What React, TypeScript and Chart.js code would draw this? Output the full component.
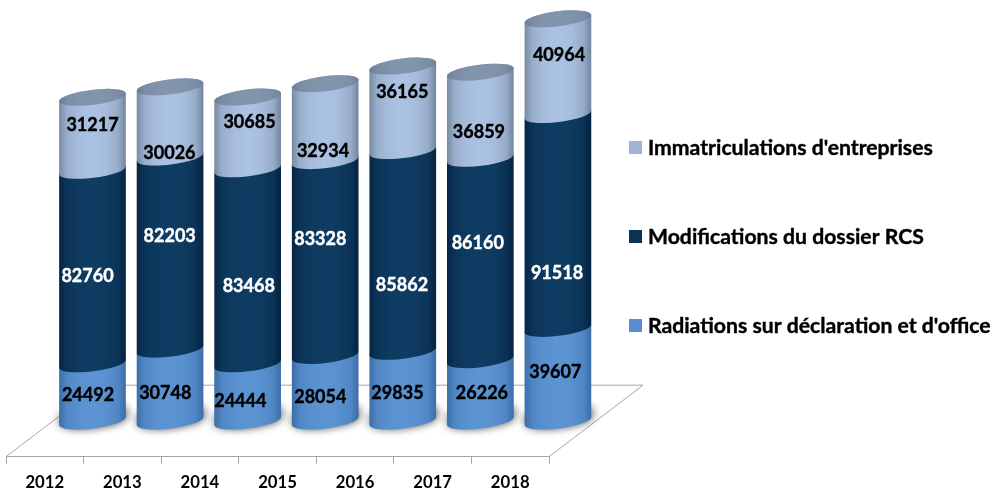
import React, { useEffect, useRef } from "react";
import { Chart, registerables } from "chart.js";

Chart.register(...registerables);

const years = ["2012", "2013", "2014", "2015", "2016", "2017", "2018"];
const radiations = [24492, 30748, 24444, 28054, 29835, 26226, 39607];
const modifications = [82760, 82203, 83468, 83328, 85862, 86160, 91518];
const immatriculations = [31217, 30026, 30685, 32934, 36165, 36859, 40964];

const radLabel = "Radiations sur déclaration et d'office";
const modLabel = "Modifications du dossier RCS";
const immLabel = "Immatriculations d'entreprises";

// Hand placement of the value labels relative to the segment centre (the source moved them by hand)
const radNudgeX = [-4.5, -4.8, -7.3, -4.9, -5.3, 1.6, -2.6];
const radNudgeY = [2.6, 7.9, 8.3, 8.5, 6.6, 2.6, -2.4];
const modNudgeX = [-5, -0.4, 1.1, -4.9, -0.8, -2.6, -0.9];
const modNudgeY = [9.6, -16.4, 19.7, -18.7, 34.3, -16.3, 51.5];
const immNudgeX = [0, -0.6, 1.9, -2.2, -0.5, -1.4, 1.1];
const immNudgeY = [-8.2, 30.8, -10.3, 28.6, -15.65, 16.45, -11.65];

const DEPTH_X = 47.7;
const DEPTH_Y = -35.7;
const TILT = (-7 * Math.PI) / 180;
const RY = 7.5;
const FONT = "Lato, 'Noto Sans', sans-serif";

type Ramp = [string, string, string];
const ramps: Ramp[] = [
  ["#3a6da6", "#5c94d4", "#3a6ca5"],
  ["#052544", "#0f3c62", "#04213f"],
  ["#76899f", "#abc2e2", "#71849b"],
];
const capRamp: Ramp = ["#6b7c94", "#8394ad", "#6f8098"];
const swatches = ["#5b8dcc", "#0b3358", "#a0b5d4"];
const nudgesX = [radNudgeX, modNudgeX, immNudgeX];
const nudgesY = [radNudgeY, modNudgeY, immNudgeY];
const labelColors = ["#000000", "#ffffff", "#000000"];

const mix = (a: string, b: string, t: number) => {
  const p = (s: string, i: number) => parseInt(s.slice(1 + i * 2, 3 + i * 2), 16);
  const c = [0, 1, 2].map((i) => Math.round(p(a, i) + (p(b, i) - p(a, i)) * t));
  return `rgb(${c[0]},${c[1]},${c[2]})`;
};

const grad = (ctx: CanvasRenderingContext2D, x0: number, x1: number, r: Ramp) => {
  const g = ctx.createLinearGradient(x0, 0, x1, 0);
  g.addColorStop(0, r[0]);
  g.addColorStop(0.12, mix(r[0], r[1], 0.65));
  g.addColorStop(0.3, mix(r[0], r[1], 0.92));
  g.addColorStop(0.5, r[1]);
  g.addColorStop(0.7, mix(r[2], r[1], 0.92));
  g.addColorStop(0.88, mix(r[2], r[1], 0.65));
  g.addColorStop(1, r[2]);
  return g;
};

const segmentPath = (ctx: CanvasRenderingContext2D, cx: number, top: number, bottom: number, rx: number) => {
  const ex = rx * Math.cos(TILT);
  const ey = rx * Math.sin(TILT);
  ctx.beginPath();
  ctx.moveTo(cx - ex, top - ey);
  ctx.lineTo(cx - ex, bottom - ey);
  ctx.ellipse(cx, bottom, rx, RY, TILT, Math.PI, 0, true);
  ctx.lineTo(cx + ex, top + ey);
  ctx.ellipse(cx, top, rx, RY, TILT, 0, Math.PI, true);
  ctx.closePath();
};

const cylinders = {
  id: "cylinders",
  beforeDraw(chart: any) {
    const { ctx } = chart;
    const x = chart.scales.x;
    const y0 = chart.chartArea.bottom;
    ctx.save();
    ctx.strokeStyle = "#a6a6a6";
    ctx.lineWidth = 1;
    ctx.beginPath();
    ctx.moveTo(x.left, y0);
    ctx.lineTo(x.left + 94, y0 - 71.5);
    ctx.lineTo(x.right + 94, y0 - 71.5);
    ctx.lineTo(x.right, y0);
    ctx.stroke();
    ctx.restore();
  },
  beforeDatasetsDraw(chart: any) {
    const { ctx } = chart;
    const metas = chart.data.datasets.map((_: any, i: number) => chart.getDatasetMeta(i));
    const n = chart.data.labels.length;
    ctx.save();
    // ground shadows
    for (let c = 0; c < n; c++) {
      const el = metas[0].data[c];
      const cx = el.x + DEPTH_X;
      const base = el.base + DEPTH_Y;
      ctx.save();
      ctx.shadowColor = "rgba(0,0,0,0.8)";
      ctx.shadowBlur = 11;
      ctx.shadowOffsetX = 1;
      ctx.shadowOffsetY = -1;
      ctx.fillStyle = "#777777";
      for (let pass = 0; pass < 2; pass++) {
        ctx.beginPath();
        ctx.ellipse(cx, base - 3, el.width / 2 - 0.5, RY, TILT, 0, Math.PI * 2);
        ctx.fill();
      }
      ctx.restore();
    }
    metas.forEach((meta: any, d: number) => {
      meta.data.forEach((el: any) => {
        const cx = el.x + DEPTH_X;
        const rx = el.width / 2;
        ctx.fillStyle = grad(ctx, cx - rx, cx + rx, ramps[d]);
        segmentPath(ctx, cx, el.y + DEPTH_Y, el.base + DEPTH_Y, rx);
        ctx.fill();
        if (d === metas.length - 1) {
          ctx.fillStyle = grad(ctx, cx - rx, cx + rx, capRamp);
          ctx.beginPath();
          ctx.ellipse(cx, el.y + DEPTH_Y, rx, RY, TILT, 0, Math.PI * 2);
          ctx.fill();
        }
      });
    });
    // value labels
    ctx.font = `bold 18px ${FONT}`;
    ctx.textAlign = "center";
    ctx.textBaseline = "middle";
    ctx.lineWidth = 0.4;
    metas.forEach((meta: any, d: number) => {
      meta.data.forEach((el: any, c: number) => {
        const val = String(chart.data.datasets[d].data[c]);
        const cx = el.x + DEPTH_X + nudgesX[d][c];
        const cy = (el.y + el.base) / 2 + DEPTH_Y + nudgesY[d][c];
        ctx.fillStyle = labelColors[d];
        ctx.strokeStyle = labelColors[d];
        ctx.fillText(val, cx, cy);
        ctx.strokeText(val, cx, cy);
      });
    });
    // legend
    ctx.font = `bold 21.2px ${FONT}`;
    ctx.textAlign = "left";
    const legendY = [326, 237, 148];
    chart.data.datasets.forEach((ds: any, d: number) => {
      ctx.fillStyle = swatches[d];
      ctx.fillRect(629, legendY[d] - 7, 13, 13);
      ctx.fillStyle = "#000000";
      ctx.strokeStyle = "#000000";
      ctx.fillText(ds.label, 648, legendY[d]);
      ctx.strokeText(ds.label, 648, legendY[d]);
    });
    ctx.restore();
    return false;
  },
};

export default function App() {
  const ref = useRef<HTMLCanvasElement>(null);
  useEffect(() => {
    document.body.style.margin = "0";
    const chart = new Chart(ref.current!, {
      type: "bar",
      data: {
        labels: years,
        datasets: [
          { label: radLabel, data: radiations, backgroundColor: swatches[0] },
          { label: modLabel, data: modifications, backgroundColor: swatches[1] },
          { label: immLabel, data: immatriculations, backgroundColor: swatches[2] },
        ],
      },
      options: {
        responsive: false,
        animation: false,
        layout: { padding: { left: 6, right: 444, top: 36, bottom: 0 } },
        datasets: { bar: { categoryPercentage: 1, barPercentage: 0.866 } },
        plugins: { legend: { display: false }, tooltip: { enabled: false } },
        scales: {
          x: {
            stacked: true,
            afterFit: (s: any) => { s.height = 33.3; },
            border: { display: true, color: "#a6a6a6" },
            grid: { drawOnChartArea: false, drawTicks: true, tickLength: 7, color: "#a6a6a6" },
            ticks: { color: "#000", padding: 9, maxRotation: 0, font: { family: FONT, weight: "bold", size: 16.7 } },
          },
          y: { stacked: true, display: false, min: 0, max: 180000 },
        },
      },
      plugins: [cylinders],
    } as any);
    return () => chart.destroy();
  }, []);
  return (
    <div style={{ position: "absolute", left: 0, top: 0, width: 993, height: 490 }}>
      <canvas ref={ref} width={993} height={490} style={{ display: "block" }} />
    </div>
  );
}
